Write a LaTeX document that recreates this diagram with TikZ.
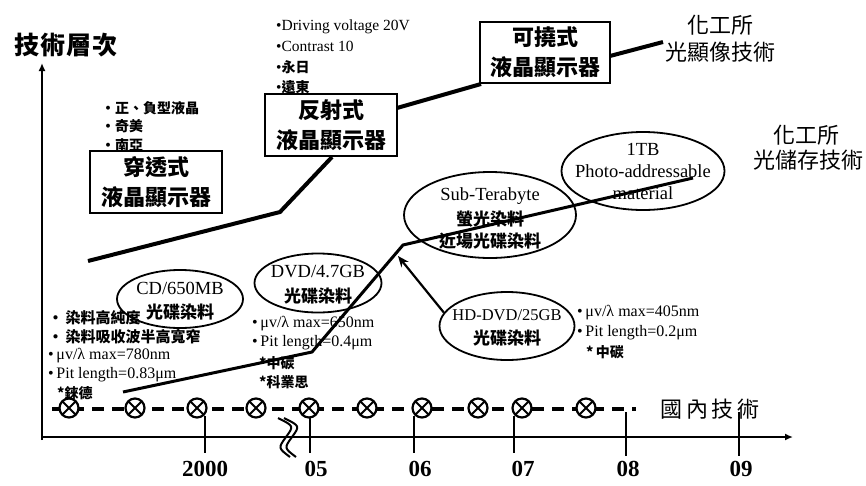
\documentclass[tikz,border=0pt]{standalone}
\usepackage{fontspec}
\setmainfont{Liberation Serif}
\newfontfamily\cjk{Noto Sans CJK TC}
\usetikzlibrary{shapes.geometric,arrows.meta}
\begin{document}
\begin{tikzpicture}[x=1pt,y=-1pt,
  box/.style={draw,line width=2pt,minimum width=132pt,minimum height=62pt,align=center,inner sep=0pt,font=\cjk\bfseries\fontsize{22}{30}\selectfont},
  ell/.style={draw,ellipse,line width=1.8pt,inner sep=0pt},
  lat/.style={inner sep=0pt,font=\fontsize{18.5}{22}\selectfont},
  cj/.style={inner sep=0pt,font=\cjk\bfseries\fontsize{17}{20}\selectfont},
  dline/.style={line width=4pt},
  sline/.style={line width=3pt},
  bul/.style={anchor=west,inner sep=0pt,font=\fontsize{16}{18}\selectfont},
  cbul/.style={anchor=west,inner sep=0pt,font=\cjk\bfseries\fontsize{14}{17}\selectfont},
  big/.style={inner sep=0pt,font=\cjk\fontsize{22}{26}\selectfont},
  mk/.style={circle,draw,fill=white,line width=2.2pt,minimum size=19pt,inner sep=0pt,
    path picture={\draw[line width=1.8pt]
      ([shift={(-7,-7)}]path picture bounding box.center) -- ([shift={(7,7)}]path picture bounding box.center)
      ([shift={(-7,7)}]path picture bounding box.center) -- ([shift={(7,-7)}]path picture bounding box.center);}},
  tk/.style={line width=2pt},
  year/.style={inner sep=0pt,font=\bfseries\fontsize{23}{26}\selectfont}
]
\useasboundingbox (0,0) rectangle (866,485);

% axes
\coordinate (o) at (42,440);
\coordinate (ytop) at (42,63);
\coordinate (xo) at (42,437);
\coordinate (xend) at (793,437);
\draw[line width=2.5pt,-{Latex[length=8pt,width=7pt]}] (o) -- (ytop);
\draw[line width=2.5pt,-{Latex[length=8pt,width=7pt]}] (xo) -- (xend);
\node[inner sep=0pt,font=\cjk\bfseries\fontsize{25}{28}\selectfont] (ylab) at (66,45) {技\kern1pt 術\kern1pt 層\kern1pt 次};

% ticks
\foreach \n/\x/\a/\b in {t0/205/416/453,t5/310/416/453,t6/414/416/453,t7/514/416/453,t8/626/412/456,t9/739/412/456}{
  \coordinate (\n a) at (\x,\a); \coordinate (\n b) at (\x,\b);
  \draw[tk] (\n a) -- (\n b);
}
\node[year] (y0) at (205,469) {2000};
\node[year] (y5) at (316,469) {05};
\node[year] (y6) at (420,469) {06};
\node[year] (y7) at (523,469) {07};
\node[year] (y8) at (628,469) {08};
\node[year] (y9) at (741,469) {09};

% break mark
\coordinate (q1) at (278,418); \coordinate (qm) at (286,437); \coordinate (q2) at (290,457);
\coordinate (r1) at (284,418); \coordinate (rm) at (292,437); \coordinate (r2) at (296,457);
\draw[line width=2pt] (q1) .. controls (294,426) .. (qm) .. controls (278,448) .. (q2);
\draw[line width=2pt] (r1) .. controls (300,426) .. (rm) .. controls (284,448) .. (r2);

% domestic dashed line with markers
\coordinate (d0) at (52,409); \coordinate (d1) at (636,409);
\draw[line width=4pt,dash pattern=on 12pt off 8pt] (d0) -- (d1);
\foreach \i/\x in {1/69,2/135,3/197,4/256,5/309,6/367,7/422,8/478,9/522,10/586}{
  \node[mk] (m\i) at (\x,408) {};
}
\node[inner sep=0pt,font=\cjk\fontsize{22}{26}\selectfont] (dom) at (710,409) {國\,內\,技\,術};

% display technology boxes
\node[box] (b1) at (156,182) {穿透式\\液晶顯示器};
\node[box] (b2) at (331,125) {反射式\\液晶顯示器};
\node[box,minimum width=130pt,minimum height=61pt] (b3) at (545,52) {可撓式\\液晶顯示器};
\node[big] (ri1) at (720,25) {化工所};
\node[big] (ri2) at (720,52) {光顯像技術};

\coordinate (p0) at (88,261);
\coordinate (p1) at (280,212);
\coordinate (p2) at (332,157);
\coordinate (p3) at (397,108);
\coordinate (p4) at (481,84);
\coordinate (p5) at (610,56);
\coordinate (p6) at (663,42);
\draw[dline] (p0) -- (p1) -- (p2);
\draw[dline] (p3) -- (p4);
\draw[dline] (p5) -- (p6);

% bullets near boxes
\node[cbul] (n1) at (101,108) {•正、負型液晶};
\node[cbul] (n2) at (101,126) {•奇美};
\node[cbul] (n3) at (101,145) {•南亞};
\node[bul,font=\fontsize{15.5}{17}\selectfont] (r1t) at (276,27) {•Driving voltage 20V};
\node[bul,font=\fontsize{15.5}{17}\selectfont] (r2t) at (276,46) {•Contrast 10};
\node[bul,font=\fontsize{15.5}{17}\selectfont] (r3t) at (276,67) {•{\cjk\bfseries\fontsize{14}{17}\selectfont 永日}};
\node[bul,font=\fontsize{15.5}{17}\selectfont] (r4t) at (276,87) {•{\cjk\bfseries\fontsize{14}{17}\selectfont 遠東}};

% storage ellipses
\node[ell,minimum width=126pt,minimum height=58pt] (cd) at (180,299) {};
\node[lat] (cd1) at (180,288) {CD/650MB};
\node[cj] (cd2) at (180,312) {光碟染料};
\node[ell,minimum width=127pt,minimum height=59pt] (dvd) at (318,283) {};
\node[lat] (dvd1) at (318,272) {DVD/4.7GB};
\node[cj] (dvd2) at (318,296) {光碟染料};
\node[ell,minimum width=135pt,minimum height=68pt] (hd) at (507,326) {};
\node[lat,font=\fontsize{16.5}{20}\selectfont] (hd1) at (507,315) {HD-DVD/25GB};
\node[cj] (hd2) at (507,338) {光碟染料};
\node[ell,minimum width=172pt,minimum height=86pt] (st) at (490,215) {};
\node[lat] (st1) at (490,196) {Sub-Terabyte};
\node[cj] (st2) at (490,219) {螢光染料};
\node[cj] (st3) at (490,241) {近場光碟染料};
\node[ell,minimum width=163pt,minimum height=78pt] (tb) at (643,171) {};
\node[lat] (tb1) at (643,149) {1TB};
\node[lat] (tb2) at (643,171) {Photo-addressable};
\node[lat] (tb3) at (643,193) {material};
\node[big] (si1) at (806,135) {化工所};
\node[big] (si2) at (808,160) {光儲存技術};

\coordinate (s0) at (123,392);
\coordinate (s1) at (312,352);
\coordinate (s2) at (403,245);
\coordinate (s3) at (693,178);
\draw[sline] (s0) -- (s1) -- (s2) -- (s3);
\coordinate (ah) at (398,256);
\draw[line width=2.2pt,-{Stealth[length=11pt,width=9pt]}] (hd.168) -- (ah);

% storage bullets
\node[cbul,font=\cjk\bfseries\fontsize{15}{18}\selectfont] (c1) at (48,318) {•\,染料高純度};
\node[cbul,font=\cjk\bfseries\fontsize{15}{18}\selectfont] (c2) at (48,337) {•\,染料吸收波半高寬窄};
\node[bul] (c3) at (48,356) {•\,μv/λ max=780nm};
\node[bul] (c4) at (48,375) {•\,Pit length=0.83μm};
\node[cbul] (c5) at (57,393) {*錸德};
\node[bul] (v1) at (252,324) {•\,μv/λ max=650nm};
\node[bul] (v2) at (252,343) {•\,Pit length=0.4μm};
\node[cbul] (v3) at (259,363) {*中碳};
\node[cbul] (v4) at (259,382) {*科業思};
\node[bul] (h1) at (577,313) {•\,μv/λ max=405nm};
\node[bul] (h2) at (577,333) {•\,Pit length=0.2μm};
\node[cbul] (h3) at (586,352) {*\,中碳};
\end{tikzpicture}
\end{document}
